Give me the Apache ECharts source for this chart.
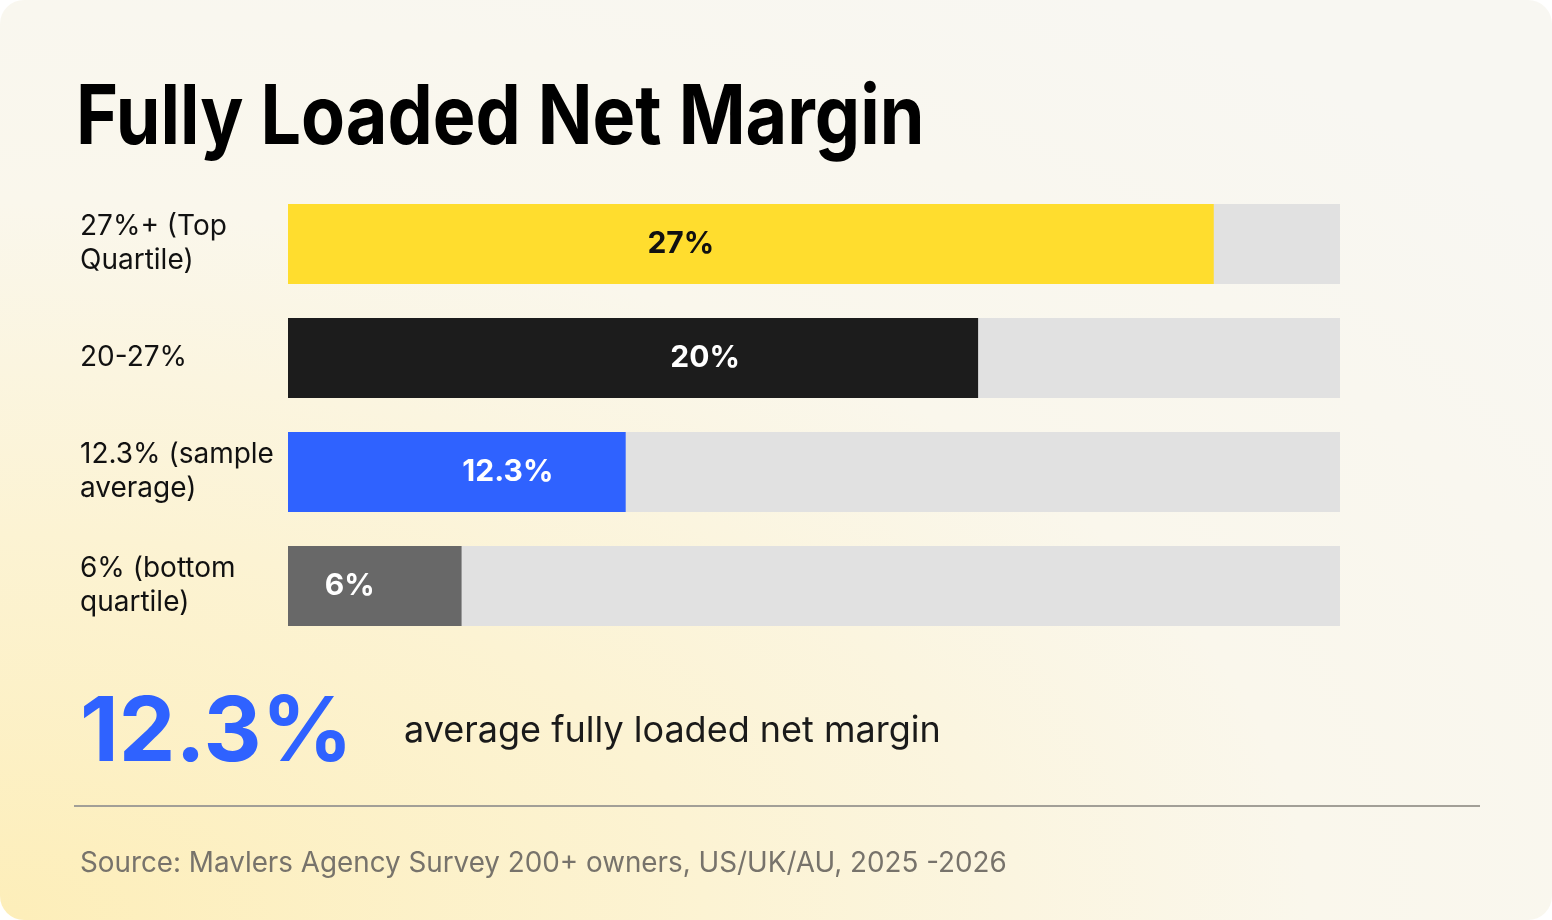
<!DOCTYPE html>
<html>
<head>
<meta charset="utf-8">
<script src="https://cdn.jsdelivr.net/npm/echarts@6/dist/echarts.min.js"></script>
<style>
html,body{margin:0;padding:0;background:#ffffff;}
#card{position:absolute;left:0;top:0;width:1552px;height:920px;border-radius:24px;overflow:hidden;
background:radial-gradient(ellipse 130% 120% at 0% 100%, #fdeeb9 0%, #fcf3d3 35%, #faf7ec 65%, #f8f7f2 100%);}
#chart{width:1552px;height:920px;}
</style>
</head>
<body>
<div id="card"><div id="chart"></div></div>
<script>
// ---- data ----
const titleText = 'Fully Loaded Net Margin';
const categories = ['27%+ (Top Quartile)', '20-27%', '12.3% (sample average)', '6% (bottom quartile)'];
const valueLabels = ['27%', '20%', '12.3%', '6%'];
// bar length as a share of the full track
const barLengths = [88.0, 65.6, 32.1, 16.5];
const headlineValue = '12.3%';
const headlineText = 'average fully loaded net margin';
const sourceText = 'Source: Mavlers Agency Survey 200+ owners, US/UK/AU, 2025 -2026';

// ---- styling ----
const barColors = ['#FFDD2E', '#1C1C1C', '#2F62FF', '#686868'];
const labelColors = ['#111111', '#ffffff', '#ffffff', '#ffffff'];
const labelShift = [-70, 72, 51, -25];
const FONT = 'Inter, "Noto Sans", sans-serif';

const chart = echarts.init(document.getElementById('chart'), null, {renderer: 'canvas'});

const option = {
  backgroundColor: 'transparent',
  animation: false,
  grid: {left: 288, right: 212, top: 187, bottom: 920 - 643, containLabel: false},
  xAxis: {
    type: 'value', min: 0, max: 100, show: false
  },
  yAxis: {
    type: 'category', data: categories, inverse: true,
    axisLine: {show: false}, axisTick: {show: false}, splitLine: {show: false},
    axisLabel: {
      align: 'left', margin: 208, width: 215, overflow: 'break',
      fontFamily: FONT, fontSize: 28, lineHeight: 34, color: '#111111',
      padding: [6, 0, 0, 0]
    }
  },
  series: [{
    type: 'bar',
    barWidth: 80,
    showBackground: true,
    backgroundStyle: {color: '#E1E1E1'},
    data: barLengths.map((v, i) => ({
      value: v,
      itemStyle: {color: barColors[i]},
      label: {
        show: true, position: 'inside', formatter: valueLabels[i],
        offset: [labelShift[i], 0],
        color: labelColors[i], fontFamily: FONT, fontWeight: 'bold', fontSize: 30
      }
    }))
  }],
  graphic: [
    {type: 'text', x: 76, y: 119, scaleX: 0.876, style: {text: titleText, x: 0, y: 0, fill: '#000000',
      font: 'bold 82px ' + FONT, verticalAlign: 'middle', align: 'left'}},
    {type: 'text', x: 80, y: 734, style: {text: headlineValue, fill: '#2F62FF',
      font: 'bold 90px ' + FONT, verticalAlign: 'middle', align: 'left'}},
    {type: 'text', x: 404, y: 731, style: {text: headlineText, fill: '#1a1a1a',
      font: '36px ' + FONT, verticalAlign: 'middle', align: 'left'}},
    {type: 'line', shape: {x1: 74, y1: 806, x2: 1480, y2: 806}, style: {stroke: '#A29F97', lineWidth: 2}},
    {type: 'text', x: 80, y: 864, style: {text: sourceText, fill: '#77736b',
      font: '27.8px ' + FONT, verticalAlign: 'middle', align: 'left'}}
  ]
};
chart.setOption(option);
</script>
</body>
</html>
